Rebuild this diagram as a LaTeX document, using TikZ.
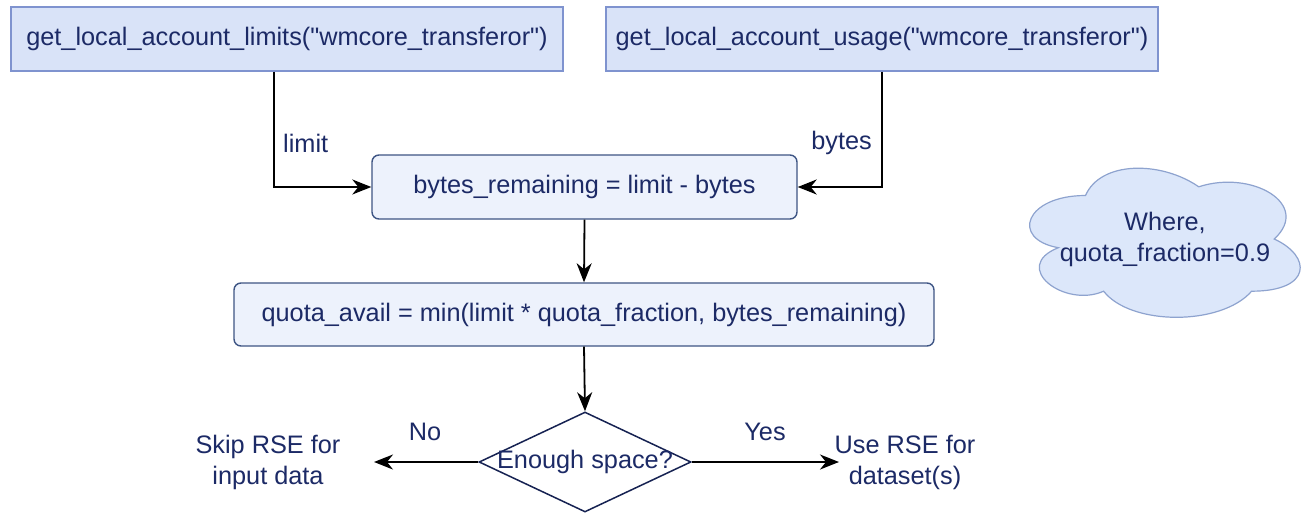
\documentclass[tikz,border=0pt]{standalone}
\usepackage{fontspec}
\setmainfont{Liberation Sans}[Ligatures=TeXOff]
\usetikzlibrary{arrows.meta,shapes.geometric}
\definecolor{boxfill}{HTML}{D9E3F8}
\definecolor{boxline}{HTML}{7F93CF}
\definecolor{roundfill}{HTML}{EDF2FC}
\definecolor{roundline}{HTML}{3E5584}
\definecolor{ink}{HTML}{1C2A66}
\definecolor{cloudfill}{HTML}{DCE7FA}
\definecolor{cloudline}{HTML}{8EA3CF}
\tikzset{
  every node/.style={font=\fontsize{25.3}{31}\selectfont, text=ink},
  callbox/.style={draw=boxline, fill=boxfill, line width=1.4pt, minimum height=64pt, inner sep=0pt},
  calcbox/.style={draw=roundline, fill=roundfill, line width=1.4pt, rounded corners=7pt, minimum height=64pt, inner sep=0pt},
  decision/.style={draw=ink!80!black, line width=1.5pt, diamond, inner sep=0pt, minimum width=212pt, minimum height=100pt},
  flow/.style={draw=black, line width=1.8pt, -{Stealth[length=19pt,width=15pt,inset=6pt]}},
  lbl/.style={inner sep=0pt}
}
\begin{document}
\begin{tikzpicture}[x=1pt,y=-1pt]
  \useasboundingbox (0,0) rectangle (1304,512);
  \fill[white] (0,0) rectangle (1304,512);

  % account queries
  \node[callbox, minimum width=552pt] (limits) at (287,39) {get\_local\_account\_limits("wmcore\_transferor")};
  \node[callbox, minimum width=552pt] (usage) at (882,39) {get\_local\_account\_usage("wmcore\_transferor")};

  % calculations
  \node[calcbox, minimum width=425pt] (remaining) at (584.5,187) {bytes\_remaining = limit - bytes};
  \node[calcbox, minimum width=700pt, minimum height=63pt] (quota) at (584,314.5) {quota\_avail = min(limit * quota\_fraction, bytes\_remaining)};

  % decision
  \node[decision] (space) at (585,462) {};
  \node[lbl] (spacetext) at (585,462) {Enough space?};

  % outcomes
  \node[lbl, align=center] (skip) at (268,462) {Skip RSE for\\input data};
  \node[lbl, align=center] (useit) at (905,462) {Use RSE for\\dataset(s)};
  \coordinate (noend) at (374,462);
  \coordinate (yesend) at (839,462);

  % quota fraction note
  \begin{scope}[shift={(1010,152)}, x=302pt, y=-174pt]
    \filldraw[fill=cloudfill, draw=cloudline, line width=1.2pt]
      (0.25,0.25) .. controls (0.05,0.25) and (0,0.5) .. (0.16,0.55)
      .. controls (0,0.66) and (0.18,0.9) .. (0.31,0.8)
      .. controls (0.4,1) and (0.7,1) .. (0.8,0.8)
      .. controls (1,0.8) and (1,0.6) .. (0.875,0.5)
      .. controls (1,0.3) and (0.8,0.1) .. (0.625,0.2)
      .. controls (0.5,0.05) and (0.3,0.05) .. (0.25,0.25) -- cycle;
  \end{scope}
  \node[lbl, align=center] (note) at (1165,239) {Where,\\quota\_fraction=0.9};

  % connectors
  \coordinate (limitdrop) at (274,71);
  \draw[flow] (limits.south -| limitdrop) |- (remaining.west);
  \draw[flow] (usage.south) |- (remaining.east);
  \draw[flow] (remaining.south) -- (quota.north);
  \draw[flow] (quota.south) -- (space.north);
  \draw[flow] (space.west) -- (noend);
  \draw[flow] (space.east) -- (yesend);

  % connector labels
  \node[lbl, anchor=west] (limitlbl) at (283,143) {limit};
  \node[lbl, anchor=east] (byteslbl) at (872,143) {bytes};
  \node[lbl] (nolbl) at (425,432) {No};
  \node[lbl] (yeslbl) at (765,432) {Yes};
\end{tikzpicture}
\end{document}
